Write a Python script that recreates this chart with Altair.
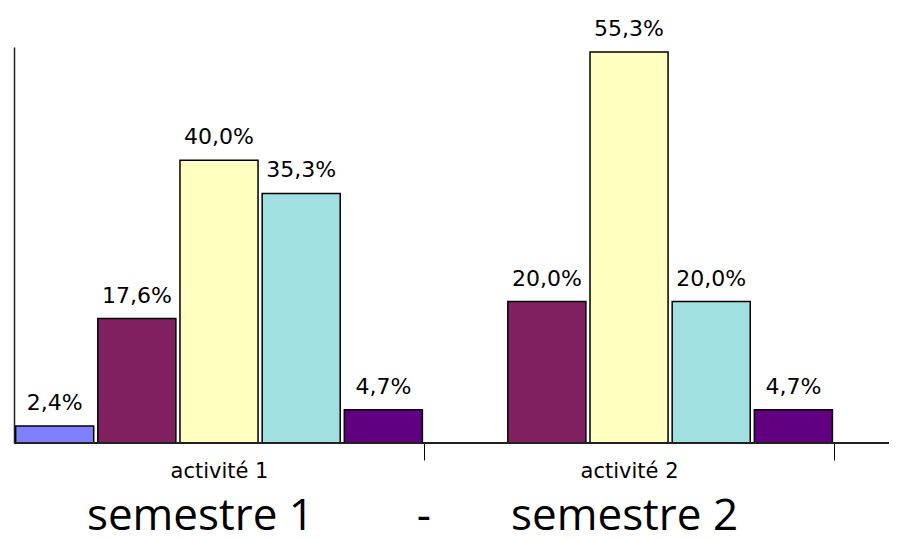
import altair as alt
import pandas as pd

categories = ["activité 1", "activité 2"]
series = ["s1", "s2", "s3", "s4", "s5"]
colors = ["#8080FF", "#802060", "#FFFFC0", "#A0E0E0", "#600080"]
values_act1 = [2.4, 17.6, 40.0, 35.3, 4.7]
values_act2 = [None, 20.0, 55.3, 20.0, 4.7]

rows = []
for cat, vals in zip(categories, [values_act1, values_act2]):
    for s, v in zip(series, vals):
        if v is None:
            continue
        rows.append({"cat": cat, "serie": s, "val": v,
                     "label": f"{v:.1f}".replace(".", ",") + "%"})
df = pd.DataFrame(rows)

W, H = 875, 396
BAND = 410

x_axis = alt.Axis(title=None, labelAngle=0, domain=False,
                  tickSize=17, tickColor="black", tickWidth=1,
                  tickOffset=BAND / 2, labelOffset=-BAND / 2,
                  labelFont="DejaVu Sans", labelFontSize=21, labelColor="black",
                  labelPadding=0)
x_enc = alt.X("cat:N", sort=categories,
              scale=alt.Scale(domain=categories, paddingInner=0, paddingOuter=0.067, align=0),
              axis=x_axis)
xo_enc = alt.XOffset("serie:N", sort=series,
                     scale=alt.Scale(domain=series, paddingInner=0.05, paddingOuter=0.02))
y_enc = alt.Y("val:Q", scale=alt.Scale(domain=[0, 56], nice=False, zero=True),
              axis=alt.Axis(title=None, labels=False, ticks=False, grid=False,
                            domainColor="#222222", domainWidth=1.5))

base = alt.Chart(df)

bars = base.mark_bar(stroke="black", strokeWidth=1.5).encode(
    x=x_enc, xOffset=xo_enc, y=y_enc,
    color=alt.Color("serie:N", scale=alt.Scale(domain=series, range=colors), legend=None),
)

labels = base.mark_text(baseline="alphabetic", dy=-16, font="DejaVu Sans",
                        fontSize=22, color="black").encode(
    x=x_enc, xOffset=xo_enc, y=y_enc, text="label:N",
)

baseline = base.mark_rule(color="#222222", strokeWidth=1.5).encode(
    y=alt.datum(0), x=alt.value(0), x2=alt.value(W + 20),
)

nb = "\u00a0"
title_text = "semestre 1" + nb * 9 + "-" + nb * 7 + "semestre 2"

chart = alt.layer(bars, labels, baseline).properties(
    width=W, height=H,
    title=alt.TitleParams(title_text, orient="bottom", anchor="middle", font="Open Sans",
                          fontSize=44, fontWeight="normal", color="black", dx=-39, offset=14),
    autosize=alt.AutoSizeParams(type="none"),
    padding={"left": 6, "top": 39, "right": 0, "bottom": 97},
).configure_view(stroke=None)

chart.save("out.html", embed_options={"renderer": "svg", "actions": False})
